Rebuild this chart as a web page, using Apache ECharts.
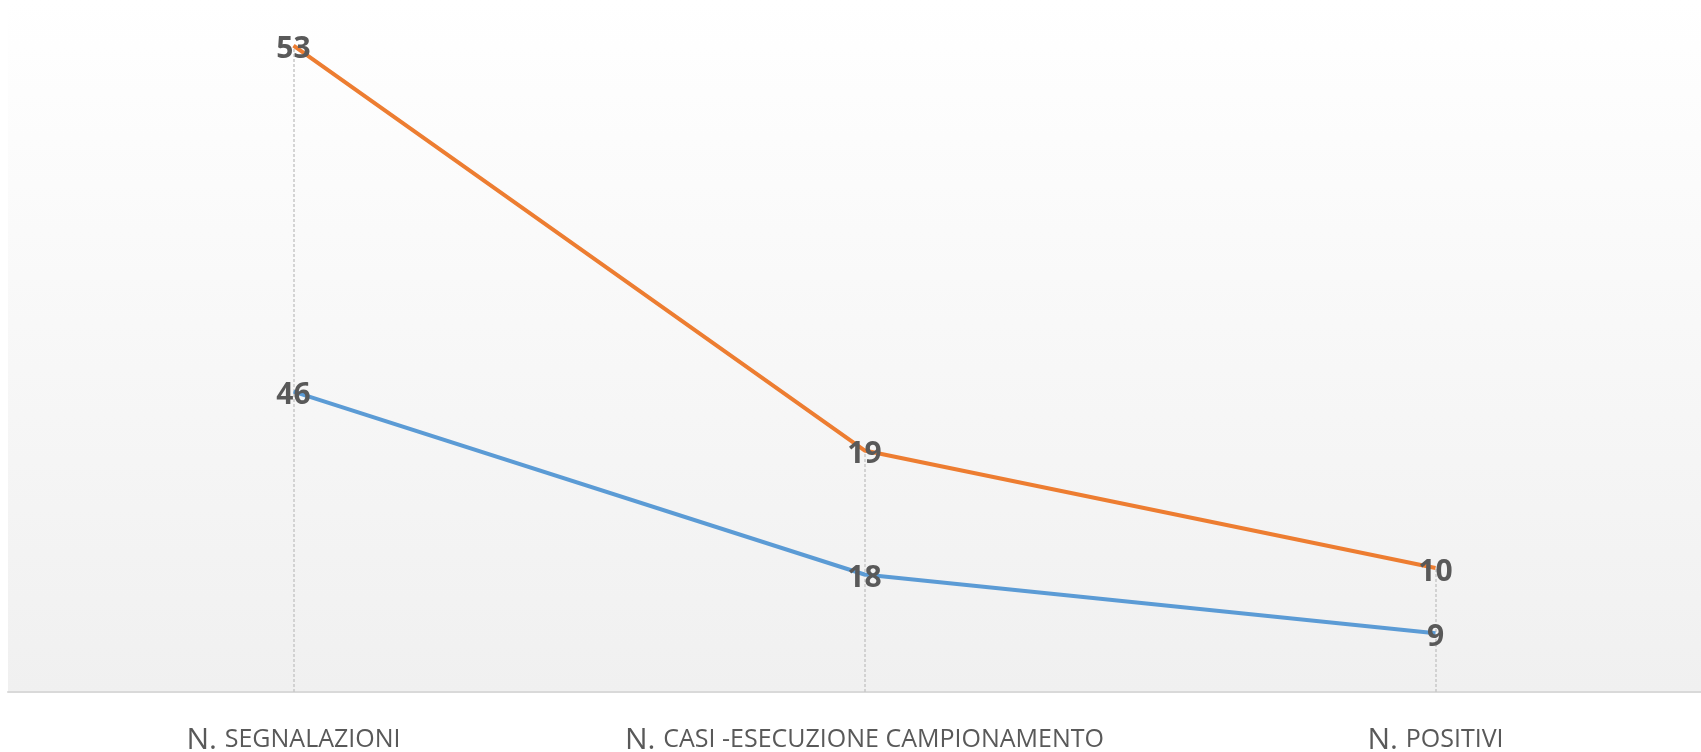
<!DOCTYPE html>
<html>
<head>
<meta charset="utf-8">
<script src="https://cdn.jsdelivr.net/npm/echarts@6/dist/echarts.min.js"></script>
<style>
  html, body { margin: 0; padding: 0; background: #ffffff; }
  #chart { width: 1701px; height: 752px; }
</style>
</head>
<body>
<div id="chart"></div>
<script>
// Categories (small-caps style: leading "N." plus upper-case rest)
const categoryLead = ['N.', 'N.', 'N.'];
const categoryRest = ['SEGNALAZIONI', 'CASI -ESECUZIONE CAMPIONAMENTO', 'POSITIVI'];
const categories = ['N. segnalazioni', 'N. casi -esecuzione campionamento', 'N. positivi'];

// Stacked line series
const seriesBlue = [46, 18, 9];
const seriesOrange = [53, 19, 10];

const LABEL_COLOR = '#595959';
const FONT = '"Open Sans", Lato, sans-serif';

// Drop lines from the axis up to the top of the stack
const dropLines = categories.map((c, i) => [
  { coord: [c, 0] },
  { coord: [c, seriesBlue[i] + seriesOrange[i]] }
]);

const valueLabel = {
  show: true,
  position: 'inside',
  offset: [0, 4],
  fontFamily: FONT,
  fontWeight: 'bold',
  fontSize: 30,
  color: LABEL_COLOR,
  opacity: 1
};

const chart = echarts.init(document.getElementById('chart'), null, { renderer: 'canvas' });

chart.setOption({
  animation: false,
  backgroundColor: '#ffffff',
  grid: {
    left: 8,
    top: 0,
    right: -20,
    bottom: 60,
    outerBoundsMode: 'none',
    containLabel: false,
    show: true,
    borderWidth: 0,
    backgroundColor: new echarts.graphic.LinearGradient(0, 0, 0, 1, [
      { offset: 0, color: '#ffffff' },
      { offset: 1, color: '#f0f0f0' }
    ])
  },
  xAxis: {
    type: 'category',
    data: categories,
    boundaryGap: true,
    axisLine: { show: true, lineStyle: { color: '#d9d9d9', width: 2 } },
    axisTick: { show: false },
    splitLine: { show: false },
    axisLabel: {
      margin: 33,
      formatter: (v, i) => '{a|' + categoryLead[i] + ' }{b|' + categoryRest[i] + '}',
      rich: {
        a: { fontFamily: FONT, fontSize: 30, color: LABEL_COLOR },
        b: { fontFamily: FONT, fontSize: 25, color: LABEL_COLOR }
      }
    }
  },
  yAxis: {
    type: 'value',
    min: 0,
    max: 106,
    show: false,
    splitLine: { show: false }
  },
  series: [
    {
      name: 'blue',
      type: 'line',
      stack: 'total',
      data: seriesBlue,
      symbol: 'circle',
      symbolSize: 2,
      showSymbol: true,
      lineStyle: { color: '#5b9bd5', width: 4 },
      itemStyle: { color: 'rgba(91,155,213,0)', borderWidth: 0 },
      label: valueLabel,
      z: 3
    },
    {
      name: 'orange',
      type: 'line',
      stack: 'total',
      data: seriesOrange,
      symbol: 'circle',
      symbolSize: 2,
      showSymbol: true,
      lineStyle: { color: '#ed7d31', width: 4 },
      itemStyle: { color: 'rgba(237,125,49,0)', borderWidth: 0 },
      label: valueLabel,
      markLine: {
        silent: true,
        symbol: ['none', 'none'],
        label: { show: false },
        lineStyle: { color: '#c8c8c8', type: [3, 2], width: 1.5 },
        data: dropLines,
        z: 1
      },
      z: 3
    }
  ]
});
</script>
</body>
</html>
